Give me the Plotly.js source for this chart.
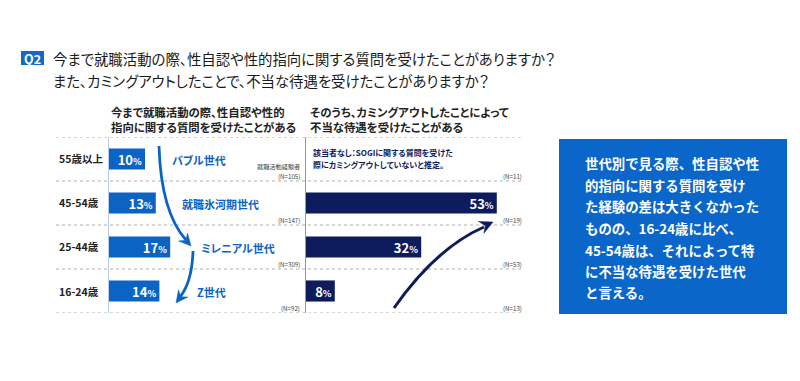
<!DOCTYPE html>
<html><head><meta charset="utf-8">
<script src="https://cdn.plot.ly/plotly-3.0.1.min.js"></script>
<style>html,body{margin:0;padding:0;background:#fff}#chart{width:800px;height:381px}
#chart .annotation text{font-feature-settings:"palt"}</style>
</head><body><div id="chart"></div>
<script>
// ---- data ----
const categories = ['55歳以上', '45-54歳', '25-44歳', '16-24歳'];
const experienced = [10, 13, 17, 14];          // 就職活動で質問を受けた (%)
const unfairTreatment = [null, 53, 32, 8];     // カミングアウトで不当な待遇 (%)
const generations = ['バブル世代', '就職氷河期世代', 'ミレニアル世代', 'Z世代'];
const sampleLeft = ['(N=105)', '(N=147)', '(N=309)', '(N=92)'];
const sampleRight = ['(N=11)', '(N=19)', '(N=53)', '(N=13)'];
const titleLines = ['今まで就職活動の際、性自認や性的指向に関する質問を受けたことがありますか？',
                    'また、カミングアウトしたことで、不当な待遇を受けたことがありますか？'];
const headerLeft = ['今まで就職活動の際、性自認や性的', '指向に関する質問を受けたことがある'];
const headerRight = ['そのうち、カミングアウトしたことによって', '不当な待遇を受けたことがある'];
const noteLines = ['該当者なし：SOGIに関する質問を受けた', '際にカミングアウトしていないと推定。'];
const boxLines = ['世代別で見る際、性自認や性', '的指向に関する質問を受け', 'た経験の差は大きくなかった',
                  'ものの、16-24歳に比べ、', '45-54歳は、それによって特', 'に不当な待遇を受けた世代', 'と言える。'];

// ---- style ----
const W = 800, H = 381;
const FONT = '"Noto Sans CJK JP", "Noto Sans", sans-serif';
const BLUE = '#0b64c4', NAVY = '#0e1b5c', BOX = '#0a66c8', DARK = '#222222';
const px = x => x / W, py = y => 1 - y / H;
const P = (x, y) => `${(x / W).toFixed(5)},${(1 - y / H).toFixed(5)}`;

const barText = '<b>%{x}</b><b><span style="font-size:9px">%</span></b>';

const traces = [
  { type: 'bar', orientation: 'h', x: experienced, y: categories, xaxis: 'x', yaxis: 'y',
    marker: { color: BLUE }, texttemplate: barText, textposition: 'inside', insidetextanchor: 'end', textangle: 0,
    constraintext: 'none', textfont: { family: FONT, size: 13, color: '#fff', weight: 700 }, hoverinfo: 'skip' },
  { type: 'bar', orientation: 'h', x: unfairTreatment, y: categories, xaxis: 'x2', yaxis: 'y2',
    marker: { color: NAVY }, texttemplate: barText, textposition: 'inside', insidetextanchor: 'end', textangle: 0,
    constraintext: 'none', textfont: { family: FONT, size: 13, color: '#fff', weight: 700 }, hoverinfo: 'skip' }
];

const yDom = [py(313), py(137)];
const axisHidden = { showgrid: false, zeroline: false, showticklabels: false, ticks: '', fixedrange: true };

const ann = [];
const shapes = [];
function txt(text, x, y, size, color, opts = {}) {
  ann.push(Object.assign({ text, x: px(x), y: py(y), xref: 'paper', yref: 'paper', xanchor: 'left', align: 'left',
    yanchor: 'middle', showarrow: false, font: { family: FONT, size, color, weight: opts.weight || 400 } }, opts.extra || {}));
  return ann.length - 1;
}

// badge + title
shapes.push({ type: 'rect', xref: 'paper', yref: 'paper', x0: px(21), x1: px(44), y0: py(65), y1: py(51),
  fillcolor: '#1469c8', line: { width: 0 } });
txt('Q2', 32.5, 58, 12.5, '#fff', { weight: 700, extra: { xanchor: 'center', align: 'center' } });
txt(titleLines[0], 51, 58, 14.4, '#1a1a1a');
txt(titleLines[1], 51, 80, 14.4, '#1a1a1a');

// headers
txt(headerLeft[0], 109, 112, 11.4, DARK, { weight: 700 });
txt(headerLeft[1], 109, 127, 11.4, DARK, { weight: 700 });
txt(headerRight[0], 308, 112, 11.4, DARK, { weight: 700 });
txt(headerRight[1], 308, 127, 11.4, DARK, { weight: 700 });

// row labels, generations, sample sizes
const genX = [170, 180, 199, 195];
const small = { family: FONT, size: 6.2, color: '#444' };
categories.forEach((c, i) => {
  ann.push({ text: c, x: px(57), y: c, xref: 'paper', yref: 'y', xanchor: 'left', align: 'left', yanchor: 'middle',
    showarrow: false, font: { family: FONT, size: 10.5, color: DARK, weight: 700 } });
  ann.push({ text: generations[i], x: px(genX[i]), y: c, xref: 'paper', yref: 'y', xanchor: 'left', align: 'left',
    yanchor: 'middle', yshift: -1, showarrow: false, font: { family: FONT, size: 11, color: BLUE, weight: 700 } });
  ann.push({ text: sampleLeft[i], x: px(302), y: c, xref: 'paper', yref: 'y', xanchor: 'right', align: 'right',
    yanchor: 'middle', yshift: -17.5, showarrow: false, font: small });
  ann.push({ text: sampleRight[i], x: px(524), y: c, xref: 'paper', yref: 'y', xanchor: 'right', align: 'right',
    yanchor: 'middle', yshift: -17.5, showarrow: false, font: small });
});
ann.push({ text: '就職活動経験者', x: px(302), y: categories[0], xref: 'paper', yref: 'y', xanchor: 'right', align: 'right',
  yanchor: 'middle', yshift: -8, showarrow: false, font: small });

// note
txt(noteLines[0], 311, 153, 8, NAVY, { weight: 700 });
txt(noteLines[1], 311, 164, 8, NAVY, { weight: 700 });

// separators (dotted)
[-0.5, 0.5, 1.5, 2.5, 3.5].forEach(v => {
  shapes.push({ type: 'line', xref: 'paper', yref: 'y', x0: px(56), x1: px(524), y0: v, y1: v,
    line: { color: '#b0b0b0', width: 1, dash: 'dot' }, layer: 'below' });
});

// blue box
shapes.push({ type: 'rect', xref: 'paper', yref: 'paper', x0: px(559), x1: px(787), y0: py(314), y1: py(139),
  fillcolor: BOX, line: { width: 0 } });
const boxY = [163, 184.5, 206, 228, 250, 271, 292];
const boxIdx = boxLines.map((l, i) => txt(l, 583, boxY[i], 13.4, '#fff', { weight: 700 }));
const css = document.createElement('style');
css.textContent = boxIdx.map(i => `#chart .annotation[data-index="${i}"] text{font-feature-settings:normal}`).join('\n');
document.head.appendChild(css);

// arrows
function arrow(start, ctrl, end, tip, color, width, headLen, headW) {
  shapes.push({ type: 'path', xref: 'paper', yref: 'paper',
    path: `M${P(...start)} Q${P(...ctrl)} ${P(...end)}`, line: { color, width }, fillcolor: 'rgba(0,0,0,0)' });
  const dx = tip[0] - ctrl[0], dy = tip[1] - ctrl[1];
  const L = Math.hypot(dx, dy), ux = dx / L, uy = dy / L;
  const bx = tip[0] - ux * headLen, by = tip[1] - uy * headLen;
  const nx = -uy, ny = ux;
  const w1 = [bx + nx * headW, by + ny * headW], w2 = [bx - nx * headW, by - ny * headW];
  const notch = [tip[0] - ux * headLen * 0.65, tip[1] - uy * headLen * 0.65];
  shapes.push({ type: 'path', xref: 'paper', yref: 'paper',
    path: `M${P(...tip)} L${P(...w1)} L${P(...notch)} L${P(...w2)} Z`, fillcolor: color, line: { color, width: 0.5 } });
}
arrow([159, 146], [161, 212], [186, 240], [191, 246], BLUE, 2.8, 12, 6);
arrow([193, 251], [192, 282], [180, 297], [176, 303], BLUE, 2.8, 12, 6);
arrow([394, 308], [436, 248], [484, 227], [493, 222], NAVY, 3, 13, 6.5);

const layout = {
  width: W, height: H, margin: { l: 0, r: 0, t: 0, b: 0 },
  paper_bgcolor: '#fff', plot_bgcolor: 'rgba(0,0,0,0)', showlegend: false, hovermode: false,
  bargap: 0.52,
  xaxis: Object.assign({ domain: [px(109), px(301)], range: [0, 192 / 3.6], anchor: 'y' }, axisHidden),
  yaxis: Object.assign({ domain: yDom, type: 'category', categoryarray: categories, range: [3.5, -0.5], anchor: 'x',
    showline: true, linecolor: '#b7cdea', linewidth: 1.5 }, axisHidden),
  xaxis2: Object.assign({ domain: [px(306), px(525)], range: [0, 219 / 3.6], anchor: 'y2' }, axisHidden),
  yaxis2: Object.assign({ domain: yDom, type: 'category', categoryarray: categories, range: [3.5, -0.5], anchor: 'x2',
    showline: true, linecolor: '#8f98b6', linewidth: 1.5 }, axisHidden),
  annotations: ann, shapes: shapes
};
Plotly.newPlot('chart', traces, layout, { staticPlot: true, displayModeBar: false });
</script></body></html>
